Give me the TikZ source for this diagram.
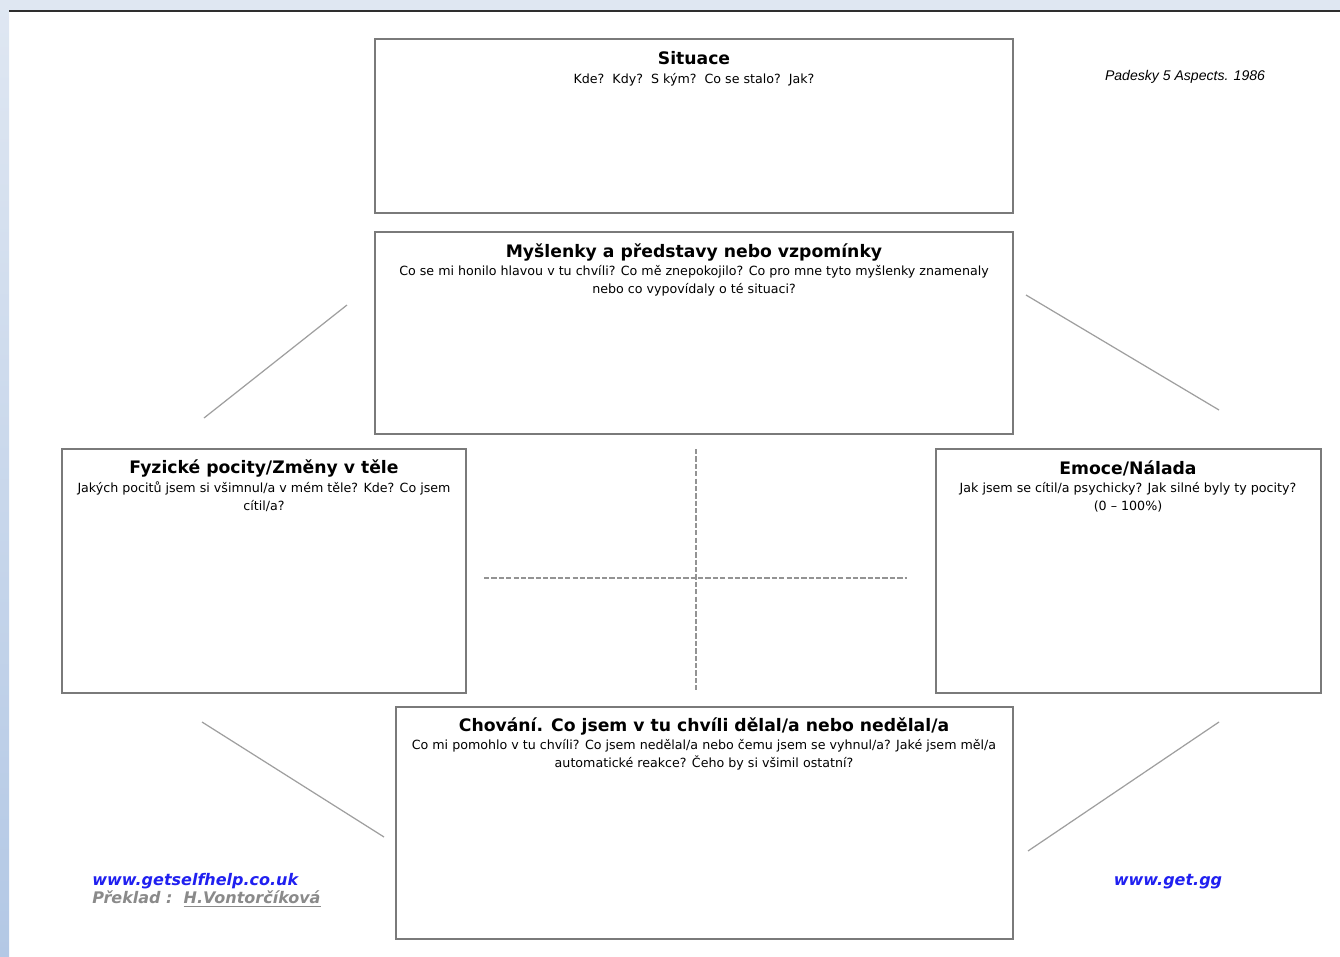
\documentclass[tikz,border=0pt]{standalone}
\usepackage{fontspec}
\setmainfont{DejaVu Sans}
\newfontfamily\arialfont{Liberation Sans}
\definecolor{rampa}{HTML}{7A7A7A}
\definecolor{pozadi}{HTML}{DFE7F2}
\definecolor{pozaditm}{HTML}{B3C8E5}
\definecolor{linka}{HTML}{2E2E2E}
\definecolor{odkaz}{HTML}{2020F0}
\definecolor{preklad}{HTML}{8A8A8A}
\tikzset{
  ramec/.style={draw=rampa, line width=0.04cm, rectangle, inner sep=0pt},
  nadpis/.style={font=\bfseries\fontsize{9.8}{12}\selectfont, inner sep=0pt},
  otazka/.style={font=\fontsize{7.2}{10.2}\selectfont, align=center, inner sep=0pt},
  paticka/.style={font=\bfseries\itshape\fontsize{9.1}{10}\selectfont, inner sep=0pt},
  spojka/.style={draw=gray!75, line width=0.7pt},
  osa/.style={draw=gray!85, line width=0.6pt, dash pattern=on 3pt off 1.2pt}
}
\begin{document}
\begin{tikzpicture}[x=0.02cm, y=-0.02cm]
	\useasboundingbox (0, 0) rectangle (1340, 957);
	\fill[pozadi] (0, 0) rectangle (1340, 10);
	\shade[top color=pozadi, bottom color=pozaditm] (0, 0) rectangle (9, 957);
	\draw[linka, line width=0.04cm] (9, 11) -- (1340, 11);

	\node[ramec, minimum width=12.76cm, minimum height=3.48cm] (situace) at (694, 126) {};
	\node[ramec, minimum width=12.76cm, minimum height=4.04cm] (mysl) at (694, 333) {};
	\node[ramec, minimum width=8.08cm, minimum height=4.88cm] (telo) at (264, 571) {};
	\node[ramec, minimum width=7.7cm, minimum height=4.88cm] (emoce) at (1128.5, 571) {};
	\node[ramec, minimum width=12.34cm, minimum height=4.64cm] (chovani) at (704.5, 823) {};

	\node[nadpis] (situaceT) at (694, 58) {Situace};
	\node[otazka] (situaceQ) at (694, 80) {Kde?\ \ Kdy?\ \ S kým?\ \ Co se stalo?\ \ Jak?};
	\node[nadpis] (myslT) at (694, 252) {Myšlenky a představy nebo vzpomínky};
	\node[otazka] (myslQ) at (694, 281) {Co se mi honilo hlavou v tu chvíli? Co mě znepokojilo? Co pro mne tyto myšlenky znamenaly\\nebo co vypovídaly o té situaci?};
	\node[nadpis] (teloT) at (264, 468) {Fyzické pocity/Změny v těle};
	\node[otazka] (teloQ) at (264, 497) {Jakých pocitů jsem si všimnul/a v mém těle? Kde? Co jsem\\cítil/a?};
	\node[nadpis] (emoceT) at (1128, 468) {Emoce/Nálada};
	\node[otazka] (emoceQ) at (1128, 497) {Jak jsem se cítil/a psychicky? Jak silné byly ty pocity?\\(0 – 100\%)};
	\node[nadpis] (chovaniT) at (704, 726) {Chování. Co jsem v tu chvíli dělal/a nebo nedělal/a};
	\node[otazka] (chovaniQ) at (704, 755) {Co mi pomohlo v tu chvíli? Co jsem nedělal/a nebo čemu jsem se vyhnul/a? Jaké jsem měl/a\\automatické reakce? Čeho by si všimil ostatní?};

	\node[font=\arialfont\itshape\fontsize{8}{10}\selectfont] (zdroj) at (1185, 77) {Padesky 5 Aspects. 1986};
	\node[paticka, text=odkaz, anchor=west] (web) at (92, 881) {www.getselfhelp.co.uk};
	\node[paticka, text=preklad, anchor=west] (autor) at (92, 899) {Překlad :\ \ \underline{H.Vontorčíková}};
	\node[paticka, text=odkaz] (web2) at (1168, 882) {www.get.gg};

	\coordinate (sz1) at (347, 305); \coordinate (sz2) at (204, 418);
	\coordinate (sv1) at (1026, 295); \coordinate (sv2) at (1219, 410);
	\coordinate (jz1) at (202, 722); \coordinate (jz2) at (384, 837);
	\coordinate (jv1) at (1219, 722); \coordinate (jv2) at (1028, 851);
	\draw[spojka] (sz1) -- (sz2);
	\draw[spojka] (sv1) -- (sv2);
	\draw[spojka] (jz1) -- (jz2);
	\draw[spojka] (jv1) -- (jv2);

	\coordinate (osaS) at (696, 449); \coordinate (osaJ) at (696, 692);
	\coordinate (osaZ) at (484, 578); \coordinate (osaV) at (907, 578);
	\draw[osa] (osaS) -- (osaJ);
	\draw[osa] (osaZ) -- (osaV);
\end{tikzpicture}
\end{document}
